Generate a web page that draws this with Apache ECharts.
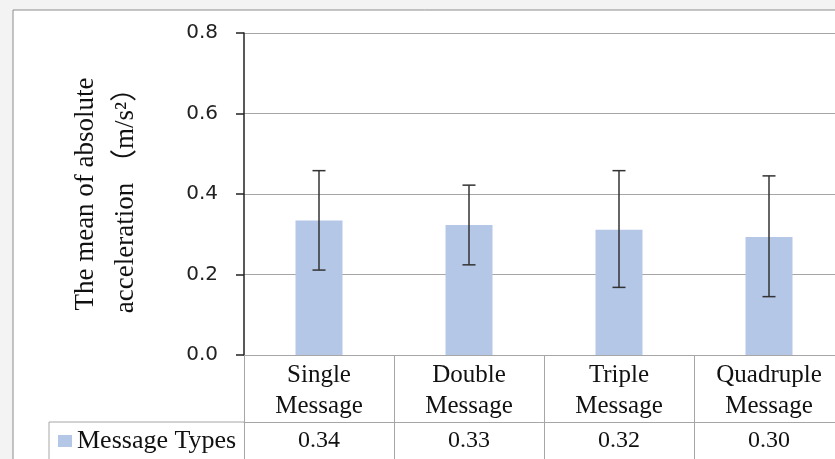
<!DOCTYPE html>
<html>
<head>
<meta charset="utf-8">
<script src="https://cdn.jsdelivr.net/npm/echarts@6/dist/echarts.min.js"></script>
<style>
html,body{margin:0;padding:0;background:#f3f3f3;}
#chart{width:835px;height:459px;}
</style>
</head>
<body>
<div id="chart"></div>
<script>
var categories = ['Single\nMessage', 'Double\nMessage', 'Triple\nMessage', 'Quadruple\nMessage'];
var meanValues = [0.334, 0.323, 0.311, 0.293];
var errLow = [0.211, 0.224, 0.168, 0.145];
var errHigh = [0.458, 0.422, 0.458, 0.445];
var tableValues = ['0.34', '0.33', '0.32', '0.30'];
var yTicks = [0, 0.2, 0.4, 0.6, 0.8];
var seriesName = 'Message Types';

var serif = "'Liberation Serif', 'Noto Sans CJK SC', serif";
var tableLine = '#a6a6a6';

var chart = echarts.init(document.getElementById('chart'), null, {renderer: 'canvas'});

var errData = categories.map(function (c, i) { return [i, errLow[i], errHigh[i]]; });

chart.setOption({
  backgroundColor: '#f3f3f3',
  animation: false,
  graphic: [
    {type: 'rect', z: -100, silent: true, shape: {x: 13, y: 10, width: 900, height: 520},
     style: {fill: '#ffffff', stroke: '#8c8c8c', lineWidth: 1}},
    {type: 'line', z: 10, silent: true, shape: {x1: 49, y1: 422, x2: 244, y2: 422},
     style: {stroke: tableLine, lineWidth: 1}},
    {type: 'line', z: 10, silent: true, shape: {x1: 49, y1: 422, x2: 49, y2: 470},
     style: {stroke: tableLine, lineWidth: 1}}
  ],
  legend: {
    data: [seriesName],
    left: 58, top: 428, padding: 0,
    icon: 'rect', itemWidth: 14, itemHeight: 12, itemGap: 5,
    textStyle: {fontFamily: serif, fontSize: 26, color: '#111'}
  },
  grid: {left: 244, top: 33, width: 600, height: 322, containLabel: false, outerBoundsMode: 'none'},
  xAxis: [
    {
      type: 'category', data: categories, position: 'bottom',
      axisLine: {show: true, lineStyle: {color: tableLine, width: 1}},
      axisTick: {show: true, interval: 0, length: 67, alignWithLabel: false, lineStyle: {color: tableLine, width: 1}},
      axisLabel: {interval: 0, margin: 5, fontFamily: serif, fontSize: 25, lineHeight: 31, color: '#111'},
      splitLine: {show: false}
    },
    {
      type: 'category', data: tableValues, position: 'bottom', offset: 67,
      axisLine: {show: true, lineStyle: {color: tableLine, width: 1}},
      axisTick: {show: true, interval: 0, length: 45, alignWithLabel: false, lineStyle: {color: tableLine, width: 1}},
      axisLabel: {interval: 0, margin: 6, fontFamily: serif, fontSize: 24, lineHeight: 26, color: '#111'},
      splitLine: {show: false}
    }
  ],
  yAxis: {
    type: 'value', min: yTicks[0], max: yTicks[yTicks.length - 1], interval: 0.2,
    name: 'The mean of absolute\nacceleration （m/s²）',
    nameLocation: 'middle', nameGap: 98,
    nameTextStyle: {fontFamily: serif, fontSize: 27, lineHeight: 40, color: '#111'},
    axisLine: {show: true, lineStyle: {color: '#222', width: 1.5}},
    axisTick: {show: true, inside: false, length: 8, lineStyle: {color: '#222', width: 1.5}},
    axisLabel: {margin: 26, fontFamily: "'DejaVu Sans', sans-serif", fontSize: 20, color: '#222',
      formatter: function (v) { return v.toFixed(1); }},
    splitLine: {show: true, lineStyle: {color: '#a6a6a6', width: 1}}
  },
  series: [
    {
      name: seriesName, type: 'bar', xAxisIndex: 0, data: meanValues,
      barWidth: 47, itemStyle: {color: '#b4c7e7'}
    },
    {
      name: 'err', type: 'custom', xAxisIndex: 0, data: errData, z: 5,
      renderItem: function (params, api) {
        var x = api.value(0), lo = api.value(1), hi = api.value(2);
        var pHi = api.coord([x, hi]);
        var pLo = api.coord([x, lo]);
        var w = 6.5;
        var st = {stroke: '#333', lineWidth: 1.5};
        return {type: 'group', children: [
          {type: 'line', shape: {x1: pHi[0], y1: pHi[1], x2: pLo[0], y2: pLo[1]}, style: st},
          {type: 'line', shape: {x1: pHi[0] - w, y1: pHi[1], x2: pHi[0] + w, y2: pHi[1]}, style: st},
          {type: 'line', shape: {x1: pLo[0] - w, y1: pLo[1], x2: pLo[0] + w, y2: pLo[1]}, style: st}
        ]};
      }
    }
  ]
});
</script>
</body>
</html>
